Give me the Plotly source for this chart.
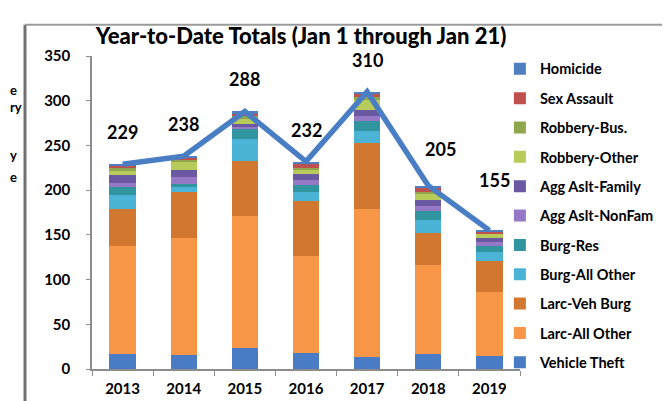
import plotly.graph_objects as go

years = ["2013", "2014", "2015", "2016", "2017", "2018", "2019"]

# stacked from bottom to top
vehicle_theft = [17, 16, 24, 18, 13, 17, 14]
larc_all_other = [120, 130, 147, 108, 166, 99, 72]
larc_veh_burg = [42, 52, 62, 62, 74, 36, 35]
burg_all_other = [16, 6, 24, 10, 13, 15, 10]
burg_res = [9, 3, 11, 8, 11, 10, 6]
agg_aslt_nonfam = [4, 8, 3, 5, 6, 5, 5]
agg_aslt_family = [9, 8, 3, 7, 7, 7, 5]
robbery_other = [4, 8, 6, 5, 11, 7, 4]
robbery_bus = [4, 3, 3, 2, 3, 2, 1]
sex_assault = [2, 3, 3, 5, 4, 5, 2]
homicide = [2, 1, 2, 2, 2, 2, 1]

totals = [229, 238, 288, 232, 310, 205, 155]

series = [
    ("Vehicle Theft", vehicle_theft, "#4a7cc6"),
    ("Larc-All Other", larc_all_other, "#f79646"),
    ("Larc-Veh Burg", larc_veh_burg, "#d2772f"),
    ("Burg-All Other", burg_all_other, "#4bb3d6"),
    ("Burg-Res", burg_res, "#31959f"),
    ("Agg Aslt-NonFam", agg_aslt_nonfam, "#9678c6"),
    ("Agg Aslt-Family", agg_aslt_family, "#6a58a2"),
    ("Robbery-Other", robbery_other, "#b7cb5a"),
    ("Robbery-Bus.", robbery_bus, "#8fa64f"),
    ("Sex Assault", sex_assault, "#c0504d"),
    ("Homicide", homicide, "#4f7fc0"),
]

bold = "bold"

fig = go.Figure()
n = len(series)
for k, (name, vals, col) in enumerate(series):
    fig.add_trace(go.Bar(x=years, y=vals, name=name, marker_color=col,
                         marker_line_width=0, legendgroup=name, legendrank=n - k))

fig.add_trace(go.Scatter(x=years, y=totals, mode="lines", showlegend=False,
                         line=dict(color="#4a7ec4", width=5.5)))

# label offsets (px) like Excel placed them
label_shift = {5: (12, 37), 6: (5, 50)}
for i, t in enumerate(totals):
    dx, dy = label_shift.get(i, (0, 32))
    fig.add_annotation(x=i, y=t, text=str(t), showarrow=False, xshift=dx, yshift=dy,
                       font=dict(size=18, color="black", family="Lato", weight=bold))

# cropped surroundings of the screenshot
for txt, ypx in [("e", 83), ("ry", 100), ("y", 150), ("e", 172)]:
    fig.add_annotation(xref="paper", yref="paper", x=-84 / 428, y=(369 - ypx) / 321,
                       xanchor="left", yanchor="middle", text=txt, showarrow=False,
                       font=dict(size=13, color="black", family="Lato", weight=bold))

fig.update_layout(
    width=670, height=401,
    margin=dict(l=84, r=158, t=48, b=32),
    paper_bgcolor="white", plot_bgcolor="white",
    barmode="stack", bargap=0.57,
    font=dict(family="Lato", color="black"),
    title=dict(text="Year-to-Date Totals (Jan 1 through Jan 21)",
               x=293 / 670, xanchor="center", y=1 - 28 / 401, yanchor="middle",
               font=dict(size=22, color="black", family="Lato", weight=900)),
    legend=dict(x=0.953, y=1.01, xanchor="left", yanchor="top", maxheight=400,
                bgcolor="rgba(0,0,0,0)",
                traceorder="grouped", tracegroupgap=7.5, itemwidth=30,
                font=dict(size=14.5, color="black", family="Lato", weight=bold)),
    shapes=[
        dict(type="line", xref="paper", yref="paper", x0=-67 / 428, x1=-67 / 428,
             y0=-1, y1=(369 - 16) / 321, line=dict(color="#707070", width=3)),
        dict(type="line", xref="paper", yref="paper", x0=-67 / 428, x1=(664 - 84) / 428,
             y0=(369 - 16) / 321, y1=(369 - 16) / 321, line=dict(color="#9a9a9a", width=2)),
        dict(type="line", xref="paper", yref="paper", x0=(664 - 84) / 428, x1=(664 - 84) / 428,
             y0=-1, y1=(369 - 16) / 321, line=dict(color="#9a9a9a", width=2)),
    ],
)

fig.update_xaxes(type="category", range=[-0.5, 6.5], showline=True, linecolor="#8c8c8c",
                 linewidth=1.5, ticks="outside", tickson="boundaries", ticklen=5,
                 tickcolor="#8c8c8c", showgrid=False,
                 tickfont=dict(size=15, family="Lato", weight=bold), ticklabelstandoff=5)
fig.update_yaxes(range=[0, 350], dtick=50, showline=True, linecolor="#8c8c8c",
                 linewidth=1.5, ticks="outside", ticklen=4, tickcolor="#8c8c8c",
                 showgrid=False, zeroline=False,
                 tickfont=dict(size=15, family="Lato", weight=bold), ticklabelstandoff=13)

fig.write_html("out.html")
